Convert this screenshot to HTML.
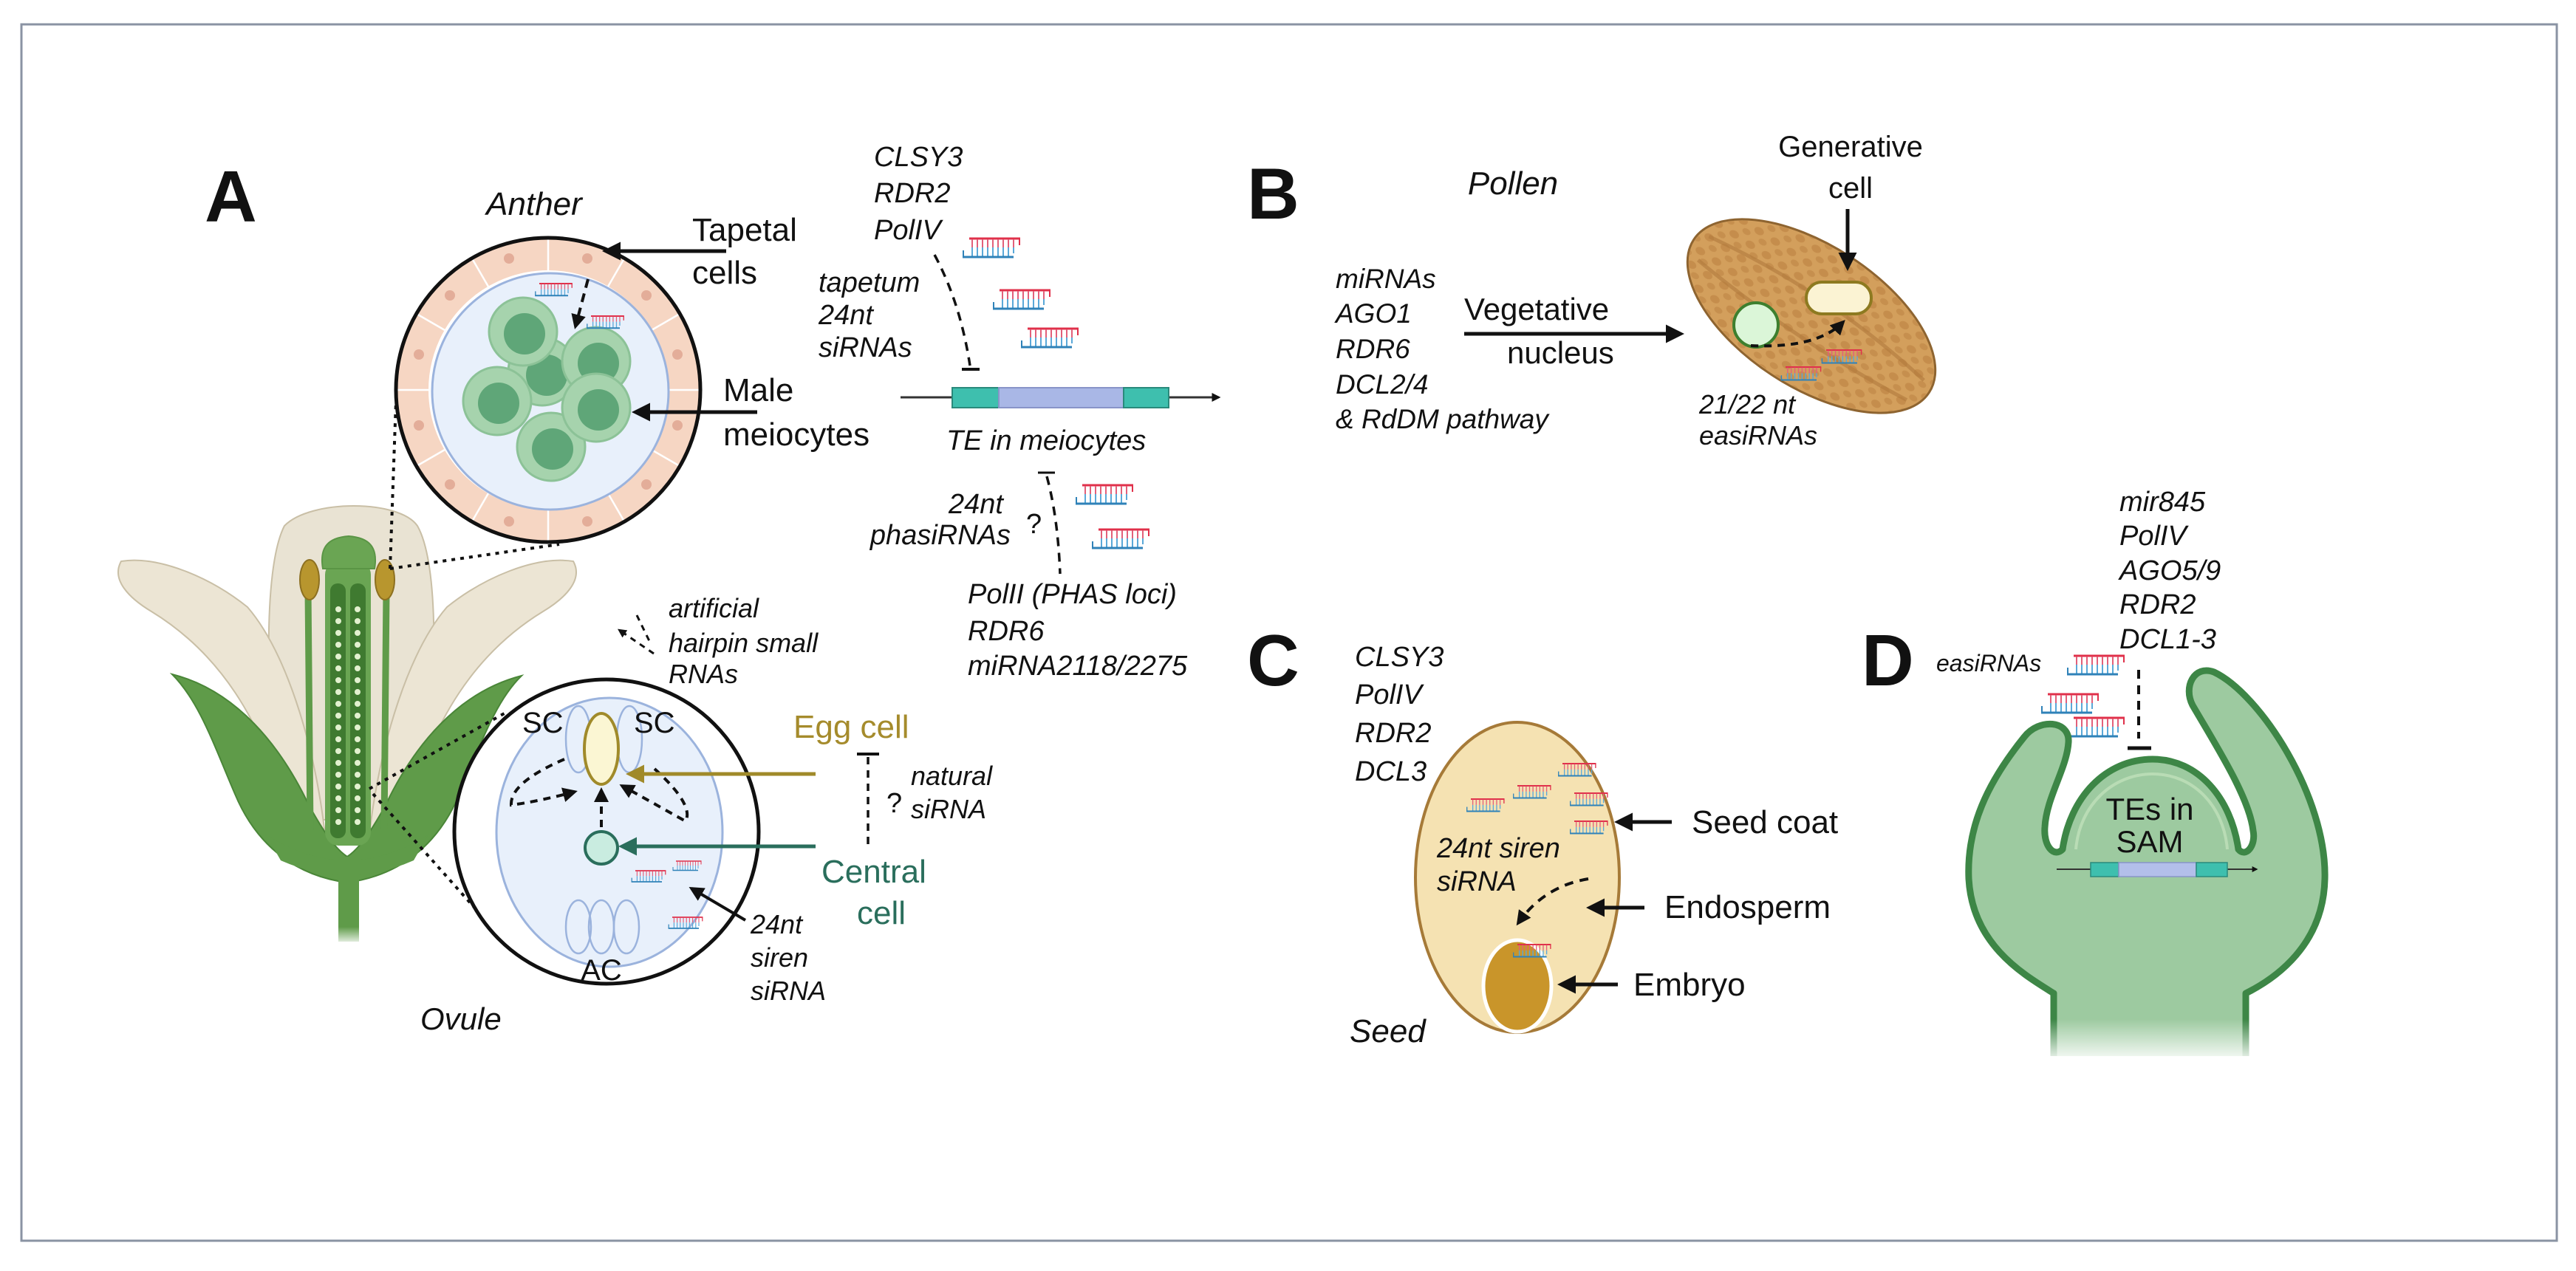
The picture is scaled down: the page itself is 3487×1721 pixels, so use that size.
<!DOCTYPE html>
<html><head><meta charset="utf-8">
<style>
html,body{margin:0;padding:0;background:#fff;}
svg{display:block;}
text{font-family:"Liberation Sans",Arial,sans-serif;fill:#111;}
.it{font-style:italic;}
</style></head>
<body>
<svg width="3487" height="1721" viewBox="0 0 3487 1721" xmlns="http://www.w3.org/2000/svg">
<defs>
  <marker id="ah" viewBox="0 0 10 10" refX="8" refY="5" markerWidth="5" markerHeight="5" orient="auto-start-reverse">
    <path d="M0,0 L10,5 L0,10 Z" fill="#111"/>
  </marker>
  <marker id="ahs" viewBox="0 0 10 10" refX="8" refY="5" markerWidth="4" markerHeight="4" orient="auto">
    <path d="M0,0 L10,5 L0,10 Z" fill="#111"/>
  </marker>
  <marker id="aho" viewBox="0 0 10 10" refX="8" refY="5" markerWidth="5" markerHeight="5" orient="auto">
    <path d="M0,0 L10,5 L0,10 Z" fill="#a08a2a"/>
  </marker>
  <marker id="aht" viewBox="0 0 10 10" refX="8" refY="5" markerWidth="5" markerHeight="5" orient="auto">
    <path d="M0,0 L10,5 L0,10 Z" fill="#2a6e5c"/>
  </marker>
  <g id="si">
    <line x1="0" y1="0" x2="69" y2="0" stroke="#e0304a" stroke-width="3"/>
    <line x1="68" y1="0" x2="68" y2="9" stroke="#e0304a" stroke-width="2"/>
    <path d="M4,1V12M11,1V12M18,1V12M25,1V12M32,1V12M39,1V12M46,1V12M53,1V12M60,1V12" stroke="#e2607a" stroke-width="2"/>
    <path d="M4,12V24M11,12V24M18,12V24M25,12V24M32,12V24M39,12V24M46,12V24M53,12V24M60,12V20" stroke="#5aa8d8" stroke-width="2"/>
    <line x1="-9" y1="25" x2="60" y2="25" stroke="#2f82b8" stroke-width="3"/>
    <line x1="-8" y1="25" x2="-8" y2="16" stroke="#2f82b8" stroke-width="2"/>
  </g>
  <linearGradient id="fade" x1="0" y1="0" x2="0" y2="1">
    <stop offset="0" stop-color="#fff" stop-opacity="0"/><stop offset="1" stop-color="#fff" stop-opacity="1"/>
  </linearGradient>
  <pattern id="dots" width="26" height="22" patternUnits="userSpaceOnUse">
    <ellipse cx="8" cy="8" rx="7" ry="5" fill="#b77c3c" opacity="0.5"/>
    <ellipse cx="20" cy="18" rx="6" ry="4" fill="#b77c3c" opacity="0.45"/>
  </pattern>
</defs>

<!-- frame -->
<rect x="29" y="33" width="3432" height="1647" fill="#fff" stroke="#8a93a3" stroke-width="3"/>

<!-- ================= PANEL A ================= -->
<text x="277" y="300" font-size="98" font-weight="bold">A</text>
<text x="723" y="291" font-size="44" class="it" text-anchor="middle">Anther</text>

<circle cx="742" cy="528" r="184" fill="none" stroke="#f6d6c3" stroke-width="44"/>
<g stroke="#fff" stroke-width="2.5">
  <line x1="742" y1="322" x2="742" y2="366"/><line x1="845" y1="350" x2="823" y2="388"/><line x1="920" y1="425" x2="882" y2="447"/>
  <line x1="948" y1="528" x2="904" y2="528"/><line x1="920" y1="631" x2="882" y2="609"/><line x1="845" y1="706" x2="823" y2="668"/>
  <line x1="742" y1="734" x2="742" y2="690"/><line x1="639" y1="706" x2="661" y2="668"/><line x1="564" y1="631" x2="602" y2="609"/>
  <line x1="536" y1="528" x2="580" y2="528"/><line x1="564" y1="425" x2="602" y2="447"/><line x1="639" y1="350" x2="661" y2="388"/>
</g>
<g fill="#e3ad99">
  <circle cx="795" cy="350" r="7"/><circle cx="875" cy="400" r="7"/><circle cx="917" cy="480" r="7"/><circle cx="917" cy="576" r="7"/>
  <circle cx="875" cy="656" r="7"/><circle cx="795" cy="706" r="7"/><circle cx="689" cy="706" r="7"/><circle cx="609" cy="656" r="7"/>
  <circle cx="567" cy="576" r="7"/><circle cx="567" cy="480" r="7"/><circle cx="609" cy="400" r="7"/><circle cx="689" cy="350" r="7"/>
</g>
<circle cx="742" cy="528" r="206" fill="none" stroke="#111" stroke-width="5"/>
<circle cx="745" cy="530" r="160" fill="#e8f0fb" stroke="#9bb3dd" stroke-width="3"/>
<g>
  <circle cx="734" cy="503" r="46" fill="#a6d3ad" stroke="#8cc297" stroke-width="3"/><circle cx="740" cy="508" r="28" fill="#5fa678"/>
  <circle cx="708" cy="449" r="46" fill="#a6d3ad" stroke="#8cc297" stroke-width="3"/><circle cx="710" cy="452" r="28" fill="#5fa678"/>
  <circle cx="807" cy="489" r="46" fill="#a6d3ad" stroke="#8cc297" stroke-width="3"/><circle cx="810" cy="492" r="28" fill="#5fa678"/>
  <circle cx="673" cy="543" r="46" fill="#a6d3ad" stroke="#8cc297" stroke-width="3"/><circle cx="675" cy="546" r="28" fill="#5fa678"/>
  <circle cx="746" cy="605" r="46" fill="#a6d3ad" stroke="#8cc297" stroke-width="3"/><circle cx="748" cy="608" r="28" fill="#5fa678"/>
  <circle cx="807" cy="552" r="46" fill="#a6d3ad" stroke="#8cc297" stroke-width="3"/><circle cx="810" cy="555" r="28" fill="#5fa678"/>
</g>
<use href="#si" transform="translate(730,384) scale(0.65)"/>
<use href="#si" transform="translate(800,428) scale(0.65)"/>
<path d="M796,378 L779,442" stroke="#111" stroke-width="4" stroke-dasharray="12,8" fill="none" marker-end="url(#ah)"/>

<text x="937" y="326" font-size="44">Tapetal</text>
<text x="937" y="384" font-size="44">cells</text>
<line x1="983" y1="340" x2="820" y2="340" stroke="#111" stroke-width="5" marker-end="url(#ah)"/>
<text x="979" y="543" font-size="44">Male</text>
<text x="979" y="603" font-size="44">meiocytes</text>
<line x1="1025" y1="558" x2="860" y2="558" stroke="#111" stroke-width="5" marker-end="url(#ah)"/>

<g font-size="38" class="it">
  <text x="1183" y="225" class="it">CLSY3</text>
  <text x="1183" y="274" class="it">RDR2</text>
  <text x="1183" y="324" class="it">PolIV</text>
  <text x="1108" y="395" class="it">tapetum</text>
  <text x="1108" y="439" class="it">24nt</text>
  <text x="1108" y="483" class="it">siRNAs</text>
</g>
<use href="#si" transform="translate(1312,323)"/>
<use href="#si" transform="translate(1353,393)"/>
<use href="#si" transform="translate(1391,445)"/>
<path d="M1265,345 Q1300,410 1313,495" stroke="#111" stroke-width="3.5" stroke-dasharray="12,9" fill="none"/>
<line x1="1302" y1="500" x2="1326" y2="500" stroke="#111" stroke-width="4"/>

<line x1="1219" y1="538" x2="1650" y2="538" stroke="#333" stroke-width="3" marker-end="url(#ahs)"/>
<rect x="1289" y="525" width="63" height="27" fill="#3ebfae" stroke="#2a8a7c" stroke-width="2"/>
<rect x="1352" y="525" width="169" height="27" fill="#a9b7e6" stroke="#8894c8" stroke-width="2"/>
<rect x="1521" y="525" width="61" height="27" fill="#3ebfae" stroke="#2a8a7c" stroke-width="2"/>
<text x="1281" y="609" font-size="38" class="it">TE in meiocytes</text>

<line x1="1405" y1="640" x2="1428" y2="640" stroke="#111" stroke-width="3"/>
<path d="M1417,645 Q1432,700 1435,777" stroke="#111" stroke-width="3.5" stroke-dasharray="12,9" fill="none"/>
<text x="1358" y="695" font-size="38" class="it" text-anchor="end">24nt</text>
<text x="1368" y="737" font-size="38" class="it" text-anchor="end">phasiRNAs</text>
<text x="1389" y="722" font-size="38">?</text>
<use href="#si" transform="translate(1465,657)"/>
<use href="#si" transform="translate(1487,717)"/>
<g font-size="38" class="it">
  <text x="1310" y="817" class="it">PolII (PHAS loci)</text>
  <text x="1310" y="867" class="it">RDR6</text>
  <text x="1310" y="914" class="it">miRNA2118/2275</text>
</g>

<!-- flower -->
<g>
  <path d="M380,1110 C360,960 355,770 385,712 C420,676 540,676 565,712 C598,770 590,960 570,1110 Z" fill="#e9e3d3" stroke="#c9bfa6" stroke-width="2"/>
  <path d="M164,760 C150,785 175,810 205,828 C290,880 360,970 395,1130 L440,1130 C425,1000 385,880 335,822 C285,782 215,752 164,760 Z" fill="#ece5d4" stroke="#c9bfa6" stroke-width="2"/>
  <path d="M776,760 C790,785 765,810 735,828 C650,880 580,970 545,1130 L500,1130 C515,1000 555,880 605,822 C655,782 725,752 776,760 Z" fill="#ece5d4" stroke="#c9bfa6" stroke-width="2"/>
  <path d="M233,913 C320,935 380,1010 418,1090 C440,1130 455,1150 470,1160 L470,1195 C395,1185 345,1140 318,1075 C290,1010 270,950 233,913 Z" fill="#5f9b49" stroke="#4a8638" stroke-width="2"/>
  <path d="M706,915 C620,937 560,1010 522,1090 C500,1130 485,1150 470,1160 L470,1195 C545,1185 595,1140 622,1075 C650,1010 670,950 706,915 Z" fill="#5f9b49" stroke="#4a8638" stroke-width="2"/>
  <path d="M360,1130 Q470,1200 580,1130 L560,1165 Q470,1205 380,1165 Z" fill="#5f9b49"/>
  <rect x="458" y="1160" width="28" height="115" fill="#5f9b49"/>
  <rect x="440" y="1255" width="64" height="25" fill="url(#fade)"/>
  <line x1="417" y1="800" x2="420" y2="1125" stroke="#5f9b49" stroke-width="9"/>
  <line x1="523" y1="800" x2="520" y2="1125" stroke="#5f9b49" stroke-width="9"/>
  <rect x="440" y="760" width="62" height="385" rx="18" fill="#6aa553"/>
  <rect x="447" y="790" width="21" height="345" rx="10" fill="#3f7a30"/>
  <rect x="474" y="790" width="21" height="345" rx="10" fill="#3f7a30"/>
  <g fill="#e2f1cf">
    <circle cx="458" cy="825" r="4"/><circle cx="458" cy="841" r="4"/><circle cx="458" cy="857" r="4"/><circle cx="458" cy="873" r="4"/><circle cx="458" cy="889" r="4"/><circle cx="458" cy="905" r="4"/><circle cx="458" cy="921" r="4"/><circle cx="458" cy="937" r="4"/><circle cx="458" cy="953" r="4"/><circle cx="458" cy="969" r="4"/><circle cx="458" cy="985" r="4"/><circle cx="458" cy="1001" r="4"/><circle cx="458" cy="1017" r="4"/><circle cx="458" cy="1033" r="4"/><circle cx="458" cy="1049" r="4"/><circle cx="458" cy="1065" r="4"/><circle cx="458" cy="1081" r="4"/><circle cx="458" cy="1097" r="4"/><circle cx="458" cy="1113" r="4"/>
    <circle cx="484" cy="825" r="4"/><circle cx="484" cy="841" r="4"/><circle cx="484" cy="857" r="4"/><circle cx="484" cy="873" r="4"/><circle cx="484" cy="889" r="4"/><circle cx="484" cy="905" r="4"/><circle cx="484" cy="921" r="4"/><circle cx="484" cy="937" r="4"/><circle cx="484" cy="953" r="4"/><circle cx="484" cy="969" r="4"/><circle cx="484" cy="985" r="4"/><circle cx="484" cy="1001" r="4"/><circle cx="484" cy="1017" r="4"/><circle cx="484" cy="1033" r="4"/><circle cx="484" cy="1049" r="4"/><circle cx="484" cy="1065" r="4"/><circle cx="484" cy="1081" r="4"/><circle cx="484" cy="1097" r="4"/><circle cx="484" cy="1113" r="4"/>
  </g>
  <path d="M437,770 C432,740 445,728 472,726 C499,728 512,740 507,770 Z" fill="#6aa553" stroke="#5a9545" stroke-width="2"/>
  <ellipse cx="419" cy="785" rx="13" ry="27" fill="#b8962e" stroke="#8d7020" stroke-width="2"/>
  <ellipse cx="521" cy="785" rx="13" ry="27" fill="#b8962e" stroke="#8d7020" stroke-width="2"/>
</g>
<g stroke="#111" stroke-width="4" stroke-dasharray="5,7" fill="none">
  <line x1="528" y1="770" x2="536" y2="543"/>
  <line x1="528" y1="770" x2="757" y2="737"/>
  <line x1="500" y1="1068" x2="688" y2="963"/>
  <line x1="505" y1="1075" x2="644" y2="1231"/>
</g>

<g font-size="36" class="it">
  <text x="905" y="836" class="it">artificial</text>
  <text x="905" y="883" class="it">hairpin small</text>
  <text x="905" y="925" class="it">RNAs</text>
</g>
<path d="M885,885 L838,853" stroke="#111" stroke-width="3" stroke-dasharray="8,7" fill="none" marker-end="url(#ahs)"/>
<path d="M862,833 L880,870" stroke="#111" stroke-width="3" stroke-dasharray="8,7" fill="none"/>

<circle cx="821" cy="1126" r="206" fill="#fff" stroke="#111" stroke-width="5"/>
<ellipse cx="825" cy="1127" rx="153" ry="182" fill="#e8f0fb" stroke="#9bb3dd" stroke-width="3"/>
<ellipse cx="783" cy="1001" rx="17" ry="45" fill="#e8f0fb" stroke="#9bb3dd" stroke-width="2.5"/>
<ellipse cx="852" cy="1001" rx="17" ry="45" fill="#e8f0fb" stroke="#9bb3dd" stroke-width="2.5"/>
<ellipse cx="814" cy="1014" rx="23" ry="48" fill="#fbf6d3" stroke="#a08a2a" stroke-width="4"/>
<circle cx="814" cy="1148" r="22" fill="#c9ece0" stroke="#2a6e5c" stroke-width="4"/>
<ellipse cx="783" cy="1255" rx="17" ry="36" fill="none" stroke="#9bb3dd" stroke-width="2.5"/>
<ellipse cx="814" cy="1255" rx="17" ry="36" fill="none" stroke="#9bb3dd" stroke-width="2.5"/>
<ellipse cx="848" cy="1255" rx="17" ry="36" fill="none" stroke="#9bb3dd" stroke-width="2.5"/>
<g stroke="#111" stroke-width="4" stroke-dasharray="10,8" fill="none">
  <path d="M764,1028 Q690,1060 692,1090 Q730,1085 778,1072" marker-end="url(#ah)"/>
  <path d="M814,1120 L814,1070" marker-end="url(#ah)"/>
  <path d="M886,1041 Q940,1090 928,1112 Q880,1085 842,1064" marker-end="url(#ah)"/>
</g>
<text x="707" y="992" font-size="40">SC</text>
<text x="858" y="992" font-size="40">SC</text>
<text x="814" y="1327" font-size="40" text-anchor="middle">AC</text>
<use href="#si" transform="translate(860,1179) scale(0.6)"/>
<use href="#si" transform="translate(915,1166) scale(0.5)"/>
<use href="#si" transform="translate(910,1242) scale(0.6)"/>
<text x="1074" y="999" font-size="44" style="fill:#a58b2c">Egg cell</text>
<line x1="1104" y1="1048" x2="852" y2="1048" stroke="#a08a2a" stroke-width="5" marker-end="url(#aho)"/>
<line x1="1104" y1="1146" x2="842" y2="1146" stroke="#2a6e5c" stroke-width="5" marker-end="url(#aht)"/>
<text x="1112" y="1195" font-size="44" style="fill:#2a6e5c">Central</text>
<text x="1160" y="1251" font-size="44" style="fill:#2a6e5c">cell</text>
<line x1="1160" y1="1021" x2="1190" y2="1021" stroke="#111" stroke-width="4"/>
<line x1="1175" y1="1025" x2="1175" y2="1144" stroke="#111" stroke-width="3.5" stroke-dasharray="10,8"/>
<text x="1200" y="1100" font-size="38">?</text>
<text x="1233" y="1063" font-size="36" class="it">natural</text>
<text x="1233" y="1108" font-size="36" class="it">siRNA</text>
<text x="1016" y="1264" font-size="36" class="it">24nt</text>
<text x="1016" y="1309" font-size="36" class="it">siren</text>
<text x="1016" y="1354" font-size="36" class="it">siRNA</text>
<line x1="1009" y1="1246" x2="936" y2="1203" stroke="#111" stroke-width="4" marker-end="url(#ah)"/>
<text x="569" y="1394" font-size="42" class="it">Ovule</text>

<!-- ================= PANEL B ================= -->
<text x="1688" y="296" font-size="98" font-weight="bold">B</text>
<text x="2048" y="263" font-size="44" class="it" text-anchor="middle">Pollen</text>
<g font-size="37" class="it">
  <text x="1808" y="390" class="it">miRNAs</text>
  <text x="1808" y="437" class="it">AGO1</text>
  <text x="1808" y="485" class="it">RDR6</text>
  <text x="1808" y="533" class="it">DCL2/4</text>
  <text x="1808" y="580" class="it">&amp; RdDM pathway</text>
</g>
<text x="1982" y="433" font-size="42">Vegetative</text>
<text x="2040" y="492" font-size="42">nucleus</text>
<line x1="1982" y1="452" x2="2275" y2="452" stroke="#111" stroke-width="5" marker-end="url(#ah)"/>
<g transform="translate(2452,428) rotate(33)">
  <ellipse cx="0" cy="0" rx="190" ry="96" fill="#d39f5c" stroke="#8e6430" stroke-width="3"/>
  <ellipse cx="0" cy="0" rx="188" ry="94" fill="url(#dots)"/>
  <path d="M-175,-15 Q0,-40 175,-10" stroke="#b07a3c" stroke-width="5" fill="none" opacity="0.6"/>
  <path d="M-170,20 Q0,40 170,25" stroke="#b07a3c" stroke-width="5" fill="none" opacity="0.6"/>
</g>
<circle cx="2377" cy="440" r="30" fill="#dbf6d8" stroke="#3d7f2e" stroke-width="4"/>
<rect x="2445" y="382" width="88" height="43" rx="21" fill="#fbf3d3" stroke="#8d7a20" stroke-width="4"/>
<path d="M2370,468 Q2460,472 2495,436" stroke="#111" stroke-width="4" stroke-dasharray="10,8" fill="none" marker-end="url(#ah)"/>
<use href="#si" transform="translate(2472,474) scale(0.7)"/>
<use href="#si" transform="translate(2417,497) scale(0.7)"/>
<text x="2505" y="212" font-size="40" text-anchor="middle">Generative</text>
<text x="2505" y="268" font-size="40" text-anchor="middle">cell</text>
<line x1="2501" y1="283" x2="2501" y2="362" stroke="#111" stroke-width="5" marker-end="url(#ah)"/>
<text x="2300" y="560" font-size="36" class="it">21/22 nt</text>
<text x="2300" y="602" font-size="36" class="it">easiRNAs</text>

<!-- ================= PANEL C ================= -->
<text x="1688" y="928" font-size="98" font-weight="bold">C</text>
<g font-size="38" class="it">
  <text x="1834" y="902" class="it">CLSY3</text>
  <text x="1834" y="953" class="it">PolIV</text>
  <text x="1834" y="1005" class="it">RDR2</text>
  <text x="1834" y="1057" class="it">DCL3</text>
</g>
<ellipse cx="2054" cy="1188" rx="138" ry="210" fill="#f5e2b2" stroke="#a67a38" stroke-width="4"/>
<ellipse cx="2054" cy="1335" rx="46" ry="62" fill="#c9952a" stroke="#fff" stroke-width="5"/>
<use href="#si" transform="translate(2115,1034) scale(0.66)"/>
<use href="#si" transform="translate(2054,1064) scale(0.66)"/>
<use href="#si" transform="translate(1991,1082) scale(0.66)"/>
<use href="#si" transform="translate(2131,1074) scale(0.66)"/>
<use href="#si" transform="translate(2131,1112) scale(0.66)"/>
<use href="#si" transform="translate(2054,1279) scale(0.66)"/>
<text x="1945" y="1161" font-size="38" class="it">24nt siren</text>
<text x="1945" y="1206" font-size="38" class="it">siRNA</text>
<path d="M2150,1190 Q2090,1200 2055,1250" stroke="#111" stroke-width="4" stroke-dasharray="12,9" fill="none" marker-end="url(#ah)"/>
<text x="2290" y="1128" font-size="44">Seed coat</text>
<line x1="2263" y1="1113" x2="2190" y2="1113" stroke="#111" stroke-width="5" marker-end="url(#ah)"/>
<text x="2253" y="1243" font-size="44">Endosperm</text>
<line x1="2226" y1="1229" x2="2152" y2="1229" stroke="#111" stroke-width="5" marker-end="url(#ah)"/>
<text x="2211" y="1348" font-size="44">Embryo</text>
<line x1="2190" y1="1333" x2="2113" y2="1333" stroke="#111" stroke-width="5" marker-end="url(#ah)"/>
<text x="1827" y="1411" font-size="44" class="it">Seed</text>

<!-- ================= PANEL D ================= -->
<text x="2520" y="928" font-size="98" font-weight="bold">D</text>
<g font-size="38" class="it">
  <text x="2869" y="692" class="it">mir845</text>
  <text x="2869" y="738" class="it">PolIV</text>
  <text x="2869" y="785" class="it">AGO5/9</text>
  <text x="2869" y="831" class="it">RDR2</text>
  <text x="2869" y="878" class="it">DCL1-3</text>
</g>
<text x="2621" y="909" font-size="32" class="it">easiRNAs</text>
<use href="#si" transform="translate(2807,888)"/>
<use href="#si" transform="translate(2772,940)"/>
<use href="#si" transform="translate(2807,972)"/>
<line x1="2895" y1="907" x2="2895" y2="1000" stroke="#111" stroke-width="4" stroke-dasharray="12,9"/>
<line x1="2880" y1="1013" x2="2912" y2="1013" stroke="#111" stroke-width="5"/>
<path d="M2780,1440 L2780,1345 C2740,1320 2670,1280 2665,1190 C2662,1120 2690,1060 2740,998 C2760,972 2802,975 2800,1005 C2798,1040 2770,1080 2768,1120 C2766,1145 2780,1162 2792,1150 C2802,1080 2850,1028 2914,1028 C2975,1028 3020,1080 3030,1150 C3040,1162 3054,1145 3050,1125 C3045,1080 3000,1010 2968,955 C2955,930 2970,900 2997,910 C3060,940 3150,1080 3147,1190 C3145,1280 3080,1325 3040,1345 L3040,1440 Z" fill="#9dcaa0" stroke="#3d8646" stroke-width="9" stroke-linejoin="round"/>
<path d="M2810,1150 C2815,1090 2860,1048 2914,1048 C2968,1048 3010,1090 3015,1150" fill="none" stroke="#b9dcb5" stroke-width="4"/>
<rect x="2760" y="1380" width="300" height="60" fill="url(#fade)"/>
<rect x="2760" y="1430" width="300" height="30" fill="#fff"/>
<text x="2910" y="1110" font-size="42" text-anchor="middle">TEs in</text>
<text x="2910" y="1154" font-size="42" text-anchor="middle">SAM</text>
<line x1="2784" y1="1177" x2="3055" y2="1177" stroke="#333" stroke-width="2" marker-end="url(#ahs)"/>
<rect x="2830" y="1168" width="38" height="19" fill="#3ebfae" stroke="#2a8a7c" stroke-width="1.5"/>
<rect x="2868" y="1168" width="105" height="19" fill="#b3bfea" stroke="#8894c8" stroke-width="1.5"/>
<rect x="2973" y="1168" width="42" height="19" fill="#3ebfae" stroke="#2a8a7c" stroke-width="1.5"/>
</svg>
</body></html>
